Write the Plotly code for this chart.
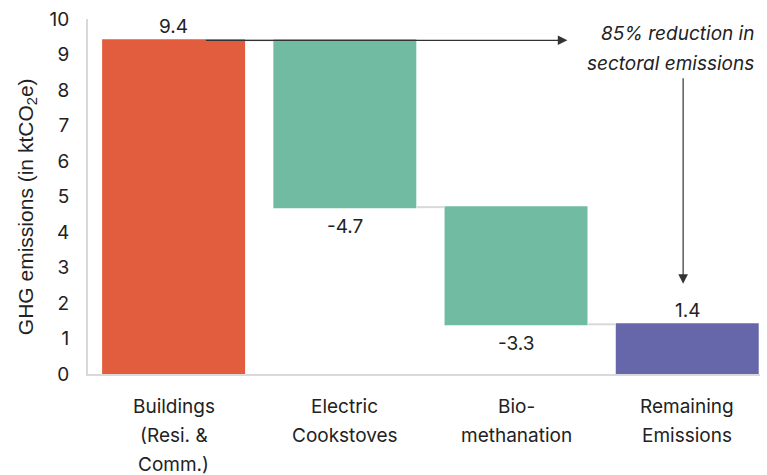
import plotly.graph_objects as go

# Waterfall of building-sector emissions (ktCO2e)
categories = ["Buildings<br>(Resi. &<br>Comm.)", "Electric<br>Cookstoves",
              "Bio-<br>methanation", "Remaining<br>Emissions"]
measures = ["relative", "relative", "relative", "total"]
values = [9.4, -4.7, -3.3, 1.4]
value_labels = ["9.4", "-4.7", "-3.3", "1.4"]
y_ticks = list(range(0, 11))
y_title = "GHG emissions (in ktCO<sub>2</sub>e)"
note_lines = ["85% reduction in", "sectoral emissions"]

RED = "#E15D3E"
GREEN = "#71BBA3"
PURPLE = "#6666AA"
GRID = "#D9D9D9"
TEXT = "#222222"
FONT = "Inter"
FS = 19
TITLE_FONT = "Liberation Sans"

x_idx = list(range(len(categories)))

fig = go.Figure(go.Waterfall(
    x=x_idx,
    y=values,
    measure=measures,
    width=0.835,
    increasing=dict(marker=dict(color=RED)),
    decreasing=dict(marker=dict(color=GREEN)),
    totals=dict(marker=dict(color=PURPLE)),
    connector=dict(line=dict(color=GRID, width=2)),
    textinfo="none",
    hoverinfo="skip",
))

# value labels: above the level for gains and totals, below it for reductions
running = 0.0
for i, (m, v, lab) in enumerate(zip(measures, values, value_labels)):
    if m == "total":
        y, anchor = running, "bottom"
    else:
        running += v
        y, anchor = running, ("bottom" if v > 0 else "top")
    fig.add_annotation(x=i, y=y, text=lab, showarrow=False, yanchor=anchor,
                       yshift=0 if anchor == "bottom" else -6,
                       font=dict(family=FONT, size=FS, color=TEXT))

# category labels, one line at a time for wider line spacing
for i, cat in enumerate(categories):
    for k, line in enumerate(cat.split("<br>")):
        fig.add_annotation(x=i, y=0, xref="x", yref="paper", yanchor="middle",
                           yshift=-32 - 29 * k, text=line, showarrow=False,
                           font=dict(family=FONT, size=FS, color=TEXT))

# y-axis title
fig.add_annotation(x=0, y=0.47, xref="paper", yref="paper", xshift=-61,
                   text=y_title, textangle=-90, showarrow=False,
                   xanchor="center", yanchor="middle",
                   font=dict(family=TITLE_FONT, size=21, color=TEXT))

start = values[0]
end = sum(values[:3])

# horizontal arrow along the starting level
fig.add_annotation(x=2.30, y=start, ax=0.18, ay=start, axref="x", ayref="y",
                   xref="x", yref="y", text="", showarrow=True,
                   arrowhead=2, arrowsize=1.6, arrowwidth=1.2, arrowcolor="#333333")
# vertical arrow down to the remaining emissions
fig.add_annotation(x=2.976, y=end + 1.14, ax=2.976, ay=8.37, axref="x", ayref="y",
                   xref="x", yref="y", text="", showarrow=True,
                   arrowhead=2, arrowsize=1.6, arrowwidth=1.2, arrowcolor="#333333")
for k, line in enumerate(note_lines):
    fig.add_annotation(x=3.40, y=1, xref="x", yref="paper", xanchor="right",
                       yanchor="middle", yshift=-14 - 30 * k, showarrow=False,
                       text=f"<i>{line}</i>",
                       font=dict(family=FONT, size=FS, color=TEXT))

fig.update_layout(
    width=767, height=475,
    margin=dict(l=88, r=7, t=19, b=101),
    plot_bgcolor="white", paper_bgcolor="white",
    showlegend=False,
    font=dict(family=FONT, size=FS, color=TEXT),
    xaxis=dict(
        range=[-0.5, 3.425],
        tickvals=x_idx, showticklabels=False,
        showline=True, linecolor=GRID, linewidth=2,
        showgrid=False, zeroline=False, ticks="",
    ),
    yaxis=dict(
        range=[0, 10],
        tickvals=y_ticks,
        showline=True, linecolor=GRID, linewidth=2,
        showgrid=False, zeroline=False, ticks="",
        ticklabelstandoff=13,
        tickfont=dict(family=FONT, size=FS, color=TEXT),
    ),
)

fig.write_html("out.html")
